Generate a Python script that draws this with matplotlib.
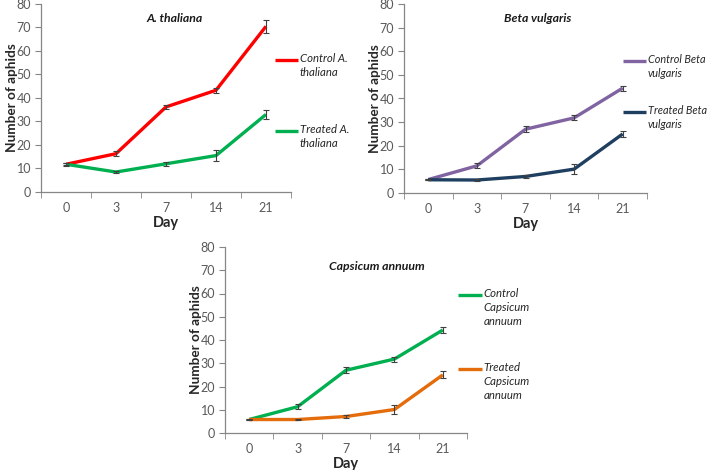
import matplotlib
matplotlib.use("Agg")
import matplotlib.pyplot as plt
from matplotlib.lines import Line2D

plt.rcParams['font.family'] = ['Lato', 'DejaVu Sans']

days = ["0", "3", "7", "14", "21"]

ath_control = [11.8, 16.3, 36.2, 43.3, 70.5]
ath_control_err = [0.6, 1.0, 1.0, 1.0, 2.8]
ath_treated = [11.8, 8.5, 12.0, 15.5, 33.0]
ath_treated_err = [0.4, 0.4, 0.8, 2.2, 1.8]

bv_control = [5.7, 11.5, 27.0, 31.8, 44.4]
bv_control_err = [0.4, 1.0, 1.2, 1.1, 1.1]
bv_treated = [5.6, 5.5, 7.0, 10.1, 25.0]
bv_treated_err = [0.3, 0.3, 0.8, 2.0, 1.3]

ca_control = [5.8, 11.3, 27.0, 31.8, 44.3]
ca_control_err = [0.4, 1.0, 1.2, 1.1, 1.1]
ca_treated = [5.8, 5.8, 7.1, 10.1, 25.0]
ca_treated_err = [0.3, 0.3, 0.8, 2.0, 1.5]

W, H = 709, 470
fig = plt.figure(figsize=(W / 100, H / 100), dpi=100)

def fx(px):
    return px / W

def fy(py):
    return 1 - py / H

panels = [
    dict(box=(41, 4, 291, 192), title="A. thaliana", tx=175, ty=18,
         series=[(ath_control, ath_control_err, "#FF0000", "Control A.\nthaliana", 60),
                 (ath_treated, ath_treated_err, "#00B050", "Treated A.\nthaliana", 131)],
         leg_x=(275, 298), leg_fs=8.2),
    dict(box=(404, 4, 647, 193), title="Beta vulgaris", tx=538, ty=18,
         series=[(bv_control, bv_control_err, "#8064A2", "Control Beta\nvulgaris", 61),
                 (bv_treated, bv_treated_err, "#1F3F60", "Treated Beta\nvulgaris", 112)],
         leg_x=(623, 646), leg_fs=7.8),
    dict(box=(225, 247, 467, 433), title="Capsicum annuum", tx=377, ty=267,
         series=[(ca_control, ca_control_err, "#00B050", "Control\nCapsicum\nannuum", 295),
                 (ca_treated, ca_treated_err, "#E46C0A", "Treated\nCapsicum\nannuum", 369)],
         leg_x=(458, 482), leg_fs=8.2),
]

axis_col = "#868686"
tick_col = "#595959"

for p in panels:
    l, t, r, b = p["box"]
    ax = fig.add_axes([fx(l), fy(b), fx(r - l), (b - t) / H])
    x = list(range(len(days)))
    for vals, err, col, lab, ly in p["series"]:
        ax.plot(x, vals, color=col, lw=2.4, solid_capstyle='butt', zorder=2)
        ax.errorbar(x, vals, yerr=err, fmt='none', ecolor='#404040', elinewidth=0.8,
                    capsize=2.5, capthick=0.8, zorder=3)
        fig.add_artist(Line2D([fx(p["leg_x"][0]), fx(p["leg_x"][1])], [fy(ly), fy(ly)],
                              color=col, lw=2.4, solid_capstyle='butt'))
        fig.text(fx(p["leg_x"][1] + 1.5), fy(ly - 7), lab, ha='left', va='top',
                 fontsize=p["leg_fs"], style='italic', color='#262626', linespacing=1.35)
    ax.set_xlim(-0.5, len(days) - 0.5)
    ax.set_ylim(0, 80)
    ax.set_yticks(range(0, 81, 10))
    ax.set_xticks(x)
    ax.set_xticklabels(days)
    ax.set_xticks([i - 0.5 for i in range(len(days) + 1)], minor=True)
    ax.tick_params(axis='x', which='major', length=0, pad=7, labelsize=9, labelcolor=tick_col)
    ax.tick_params(axis='x', which='minor', length=4, color=axis_col, direction='out')
    ax.tick_params(axis='y', length=4, color=axis_col, labelsize=9, labelcolor=tick_col, pad=3)
    for s in ['top', 'right']:
        ax.spines[s].set_visible(False)
    for s in ['left', 'bottom']:
        ax.spines[s].set_color(axis_col)
        ax.spines[s].set_linewidth(0.9)
    ax.set_facecolor('none')
    ax.set_ylabel("Number of aphids", fontsize=9.8, fontweight='bold', color='#262626')
    ax.yaxis.set_label_coords(-29 / (r - l), 0.5)
    ax.set_xlabel("Day", fontsize=10.5, fontweight='bold', color='#262626')
    ax.xaxis.set_label_coords(0.5, -31 / (b - t))
    ax.xaxis.label.set_va('center')
    ax.yaxis.label.set_va('center')
    fig.text(fx(p["tx"]), fy(p["ty"]), p["title"], ha='center', va='center',
             fontsize=8.8, fontweight='bold', style='italic', color='#1a1a1a')

fig.savefig("out.png", dpi=100)
